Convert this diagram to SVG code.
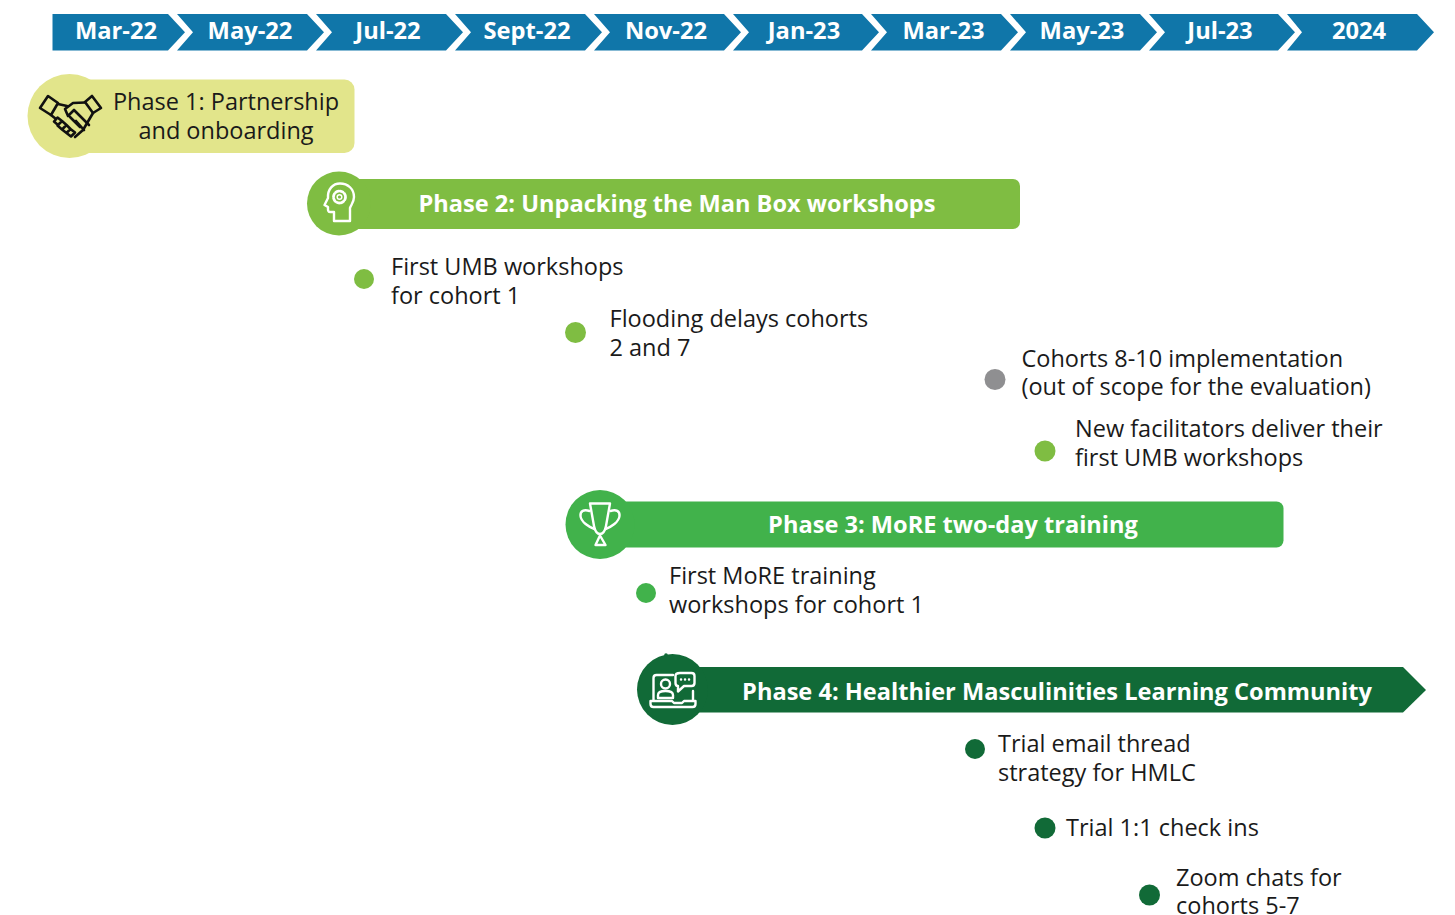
<svg xmlns="http://www.w3.org/2000/svg" width="1455" height="915" viewBox="0 0 1455 915">
<style>
text{font-family:"Open Sans","Noto Sans","Liberation Sans",sans-serif}
.m{font-size:23.700px;font-weight:700;fill:#fff;text-anchor:middle}
.h{font-size:23.600px;font-weight:700;fill:#fff;text-anchor:middle}
.t{font-size:23.500px;fill:#1a1a1a}
.c{text-anchor:middle}
.seg{fill:#1076a9}
.ic{fill:none;stroke:#fff;stroke-width:2.400;stroke-linejoin:round;stroke-linecap:round}
.ik{fill:none;stroke:#111;stroke-width:2.600;stroke-linejoin:round;stroke-linecap:round}
</style>
<rect width="1455" height="915" fill="#fff"/>
<g id="timeline">
<path class="seg" d="M52.500 14H168L185 32.300L168 50.500H52.500Z"/>
<path class="seg" d="M177 14H307L324 32.300L307 50.500H177L193 32.300Z"/>
<path class="seg" d="M316 14H446L463 32.300L446 50.500H316L332 32.300Z"/>
<path class="seg" d="M455 14H585L602 32.300L585 50.500H455L471 32.300Z"/>
<path class="seg" d="M594 14H724L741 32.300L724 50.500H594L610 32.300Z"/>
<path class="seg" d="M733 14H862L879 32.300L862 50.500H733L749 32.300Z"/>
<path class="seg" d="M871 14H1001L1018 32.300L1001 50.500H871L887 32.300Z"/>
<path class="seg" d="M1010 14H1140L1157 32.300L1140 50.500H1010L1026 32.300Z"/>
<path class="seg" d="M1149 14H1278L1295 32.300L1278 50.500H1149L1165 32.300Z"/>
<path class="seg" d="M1287 14H1417L1434 32.300L1417 50.500H1287L1302 32.300Z"/>
<text class="m" x="116" y="39">Mar-22</text>
<text class="m" x="250" y="39">May-22</text>
<text class="m" x="388" y="39">Jul-22</text>
<text class="m" x="527" y="39">Sept-22</text>
<text class="m" x="666" y="39">Nov-22</text>
<text class="m" x="804" y="39">Jan-23</text>
<text class="m" x="943.500" y="39">Mar-23</text>
<text class="m" x="1082" y="39">May-23</text>
<text class="m" x="1220" y="39">Jul-23</text>
<text class="m" x="1359" y="39">2024</text>
</g>
<g id="phase1">
<rect x="60" y="79.500" width="294.500" height="73.500" rx="10" fill="#e2e58b"/>
<circle cx="69.500" cy="116" r="42" fill="#e2e58b"/>
<g class="ik">
<path d="M48 96L40 108L51 115L58 103Z"/>
<path d="M92 96L101 108L93 113L85 102Z"/>
<path d="M58 104L67 106M85 102.500L73 103L65 109L68 116L74 110L89 125"/>
<path d="M93 113L83 130L75 137"/>
<path d="M51 115L56 119"/>
<path d="M57.500 117.500L54 121.500L58 125L62 121ZM62 121L57.500 125.500L62 129.500L66.500 125ZM66.500 125L62 129.500L66.500 133L70.500 129ZM70.500 129L66.500 133L71 136.500L75 132.500Z"/>
<path d="M70 117L80 127M76 121L84 130"/>
</g>
<text class="t c" x="226" y="110">Phase 1: Partnership</text>
<text class="t c" x="226" y="138.500">and onboarding</text>
</g>
<g id="phase2">
<rect x="330" y="179" width="690" height="50" rx="7" fill="#7fbd42"/>
<circle cx="339" cy="203.500" r="32" fill="#7fbd42"/>
<g class="ic">
<path d="M334 221V212H330C327.500 212 328 209 328 207L324.500 205L328 198C327.500 189 333 183.500 340 183.500C348 183.500 354 189 354 197C354 202 351 205 350 208V221Z"/>
<circle cx="339.500" cy="197" r="6" stroke-width="2.800" stroke-dasharray="3 1.700"/>
<circle cx="339.500" cy="197" r="2.300" stroke-width="1.500"/>
</g>
<text class="h" x="677" y="212">Phase 2: Unpacking the Man Box workshops</text>
</g>
<g id="phase2-items">
<circle cx="364" cy="279" r="10" fill="#7fbd42"/>
<text class="t" x="391" y="275">First UMB workshops</text>
<text class="t" x="391" y="304">for cohort 1</text>
<circle cx="575.500" cy="332.500" r="10.500" fill="#7fbd42"/>
<text class="t" x="609.500" y="327">Flooding delays cohorts</text>
<text class="t" x="609.500" y="356">2 and 7</text>
<circle cx="995" cy="379.500" r="10.500" fill="#8f8f91"/>
<text class="t" x="1021.500" y="367">Cohorts 8-10 implementation</text>
<text class="t" x="1021.500" y="395">(out of scope for the evaluation)</text>
<circle cx="1045" cy="451" r="10.500" fill="#7fbd42"/>
<text class="t" x="1075" y="437">New facilitators deliver their</text>
<text class="t" x="1075" y="466">first UMB workshops</text>
</g>
<g id="phase3">
<rect x="600" y="501.500" width="683.500" height="46" rx="7" fill="#41b24b"/>
<circle cx="600" cy="524.500" r="34.500" fill="#41b24b"/>
<g class="ic">
<path d="M590 503.500H610L606 526C605 531 603 534 600 534C597 534 595 531 594 526Z"/>
<path d="M589.500 511C584 509 580 511 580.500 516C581 522 589 527 594.500 529M610.500 511C616 509 620 511 619.500 516C619 522 611 527 605.500 529"/>
<path d="M600 535.500L595.500 545H605.500Z"/>
</g>
<text class="h" x="953" y="533">Phase 3: MoRE two-day training</text>
</g>
<g id="phase3-items">
<circle cx="646" cy="593" r="10" fill="#41b24b"/>
<text class="t" x="669" y="584">First MoRE training</text>
<text class="t" x="669" y="613">workshops for cohort 1</text>
</g>
<g id="phase4">
<path d="M690 667H1403L1426 690L1403 712.500H690Z" fill="#116a37"/>
<circle cx="672.500" cy="689.500" r="35.500" fill="#116a37"/>
<circle cx="666" cy="655" r="1.800" fill="#116a37"/>
<g class="ic">
<path d="M653.500 700V678C653.500 676 654.500 675 656.500 675H673"/>
<path d="M693 691V700"/>
<path d="M650.500 701H672L674 703H682L684 701H695.500V704C695.500 706 694.500 707 692.500 707H653.500C651.500 707 650.500 706 650.500 704Z"/>
<circle cx="665.500" cy="684" r="4.500"/>
<path d="M658 698V695C658 692 661 691 665.500 691C670 691 673 692 673 695V698Z"/>
<path d="M680 673H691.500C693.500 673 694.500 674 694.500 676V683C694.500 685 693.500 686 691.500 686H684L678 691.500V686C676 686 675.500 685 675.500 683V676C675.500 674 677 673 680 673Z"/>
<path d="M681 679.500h.1M685 679.500h.1M689 679.500h.1"/>
</g>
<text class="h" x="1057" y="700">Phase 4: Healthier Masculinities Learning Community</text>
</g>
<g id="phase4-items">
<circle cx="975" cy="749" r="10" fill="#116a37"/>
<text class="t" x="998" y="752">Trial email thread</text>
<text class="t" x="998" y="781">strategy for HMLC</text>
<circle cx="1045" cy="828" r="10.500" fill="#116a37"/>
<text class="t" x="1066" y="836">Trial 1:1 check ins</text>
<circle cx="1149.500" cy="895" r="10.500" fill="#116a37"/>
<text class="t" x="1176" y="886">Zoom chats for</text>
<text class="t" x="1176" y="914">cohorts 5-7</text>
</g>
<g id="connectors"></g>
</svg>
